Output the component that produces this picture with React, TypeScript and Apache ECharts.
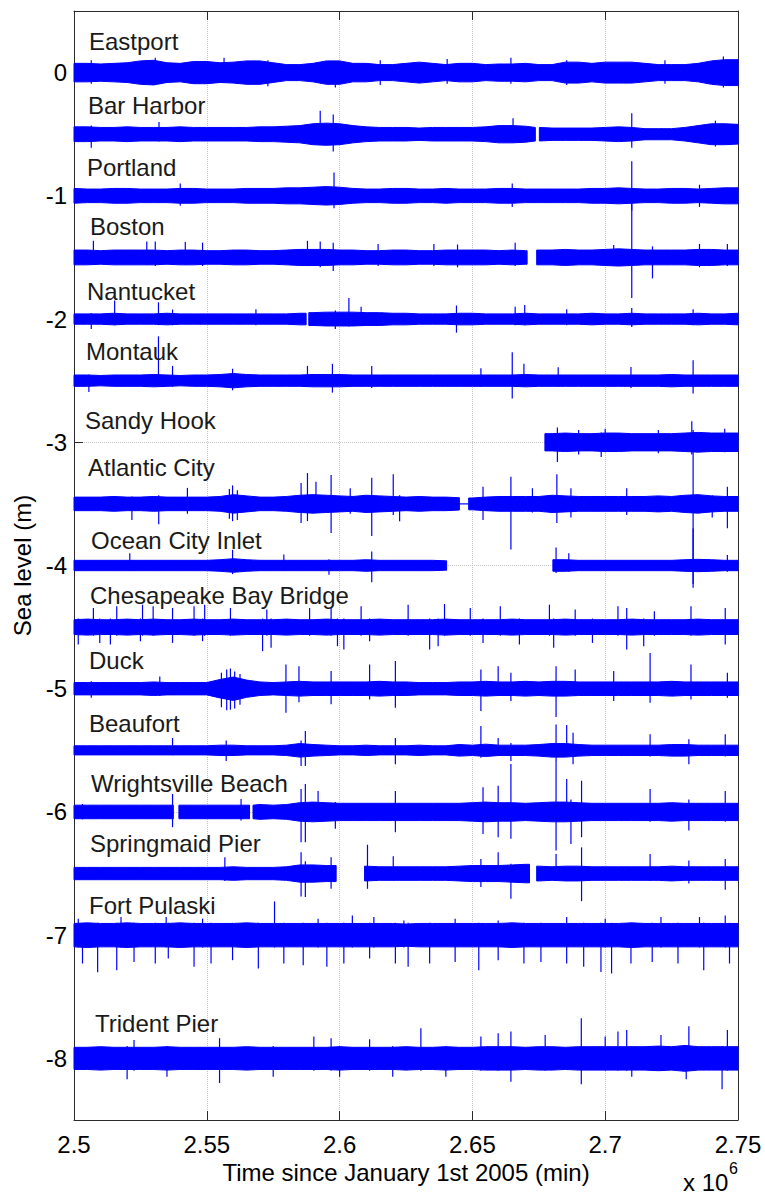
import React, { useEffect, useRef } from "react";
import * as echarts from "echarts";

// ---------- data ----------
const X_MIN = 2.5;
const X_MAX = 2.75;
const X_STEP = 0.005; // envelope samples every 5000 min (x in 10^6 min)

const stationNames = [
  "Eastport", "Bar Harbor", "Portland", "Boston", "Nantucket", "Montauk",
  "Sandy Hook", "Atlantic City", "Ocean City Inlet", "Chesapeake Bay Bridge",
  "Duck", "Beaufort", "Wrightsville Beach", "Springmaid Pier", "Fort Pulaski", "Trident Pier",
];
const baselines = [0, -0.5, -1, -1.5, -2, -2.5, -3, -3.5, -4, -4.5, -5, -5.5, -6, -6.5, -7, -8];

const yTickValues = [0, -1, -2, -3, -4, -5, -6, -7, -8];

// half-width of the oscillation envelope (m)
const ampEastport = [
  0.075, 0.075, 0.07, 0.075, 0.08, 0.095, 0.1, 0.08, 0.075, 0.09,
  0.09, 0.08, 0.085, 0.095, 0.095, 0.08, 0.065, 0.065, 0.075, 0.095,
  0.095, 0.075, 0.075, 0.065, 0.065, 0.075, 0.085, 0.075, 0.065, 0.075,
  0.075, 0.065, 0.07, 0.07, 0.075, 0.065, 0.065, 0.085, 0.085, 0.075,
  0.085, 0.085, 0.085, 0.075, 0.065, 0.065, 0.065, 0.075, 0.095, 0.105,
  0.105,
];
const ampBarHarbor = [
  0.06, 0.06, 0.055, 0.055, 0.06, 0.055, 0.055, 0.055, 0.06, 0.055,
  0.055, 0.055, 0.055, 0.055, 0.06, 0.06, 0.065, 0.07, 0.085, 0.09,
  0.085, 0.07, 0.06, 0.055, 0.055, 0.055, 0.05, 0.055, 0.055, 0.055,
  0.055, 0.06, 0.07, 0.07, 0.065, 0.055, 0.05, 0.05, 0.05, 0.05,
  0.055, 0.06, 0.055, 0.045, 0.045, 0.045, 0.055, 0.07, 0.085, 0.085,
  0.08,
];
const ampPortland = [
  0.06, 0.055, 0.055, 0.06, 0.06, 0.055, 0.055, 0.055, 0.06, 0.06,
  0.055, 0.055, 0.055, 0.06, 0.06, 0.06, 0.065, 0.065, 0.07, 0.075,
  0.07, 0.06, 0.055, 0.055, 0.06, 0.06, 0.055, 0.055, 0.06, 0.055,
  0.055, 0.055, 0.06, 0.06, 0.055, 0.055, 0.055, 0.055, 0.055, 0.06,
  0.06, 0.065, 0.06, 0.055, 0.055, 0.06, 0.06, 0.055, 0.06, 0.065,
  0.065,
];
const ampBoston = [
  0.06, 0.06, 0.055, 0.06, 0.06, 0.06, 0.06, 0.055, 0.06, 0.06,
  0.055, 0.055, 0.06, 0.06, 0.055, 0.055, 0.06, 0.065, 0.065, 0.065,
  0.06, 0.06, 0.055, 0.055, 0.06, 0.06, 0.055, 0.055, 0.06, 0.06,
  0.06, 0.06, 0.055, 0.06, 0.055, 0.06, 0.06, 0.065, 0.06, 0.06,
  0.065, 0.07, 0.065, 0.06, 0.06, 0.06, 0.06, 0.065, 0.065, 0.06,
  0.06,
];
const ampNantucket = [
  0.042, 0.042, 0.042, 0.047, 0.042, 0.042, 0.042, 0.047, 0.042, 0.042,
  0.042, 0.042, 0.042, 0.042, 0.042, 0.042, 0.042, 0.047, 0.052, 0.056,
  0.056, 0.056, 0.052, 0.052, 0.047, 0.047, 0.042, 0.042, 0.042, 0.047,
  0.047, 0.042, 0.042, 0.042, 0.047, 0.042, 0.042, 0.042, 0.042, 0.047,
  0.042, 0.042, 0.047, 0.042, 0.042, 0.042, 0.042, 0.047, 0.042, 0.042,
  0.047,
];
const ampMontauk = [
  0.046, 0.046, 0.042, 0.046, 0.046, 0.046, 0.05, 0.046, 0.042, 0.046,
  0.046, 0.05, 0.058, 0.05, 0.046, 0.046, 0.046, 0.046, 0.05, 0.05,
  0.05, 0.046, 0.046, 0.046, 0.046, 0.046, 0.046, 0.046, 0.046, 0.046,
  0.046, 0.046, 0.046, 0.046, 0.05, 0.046, 0.046, 0.046, 0.046, 0.046,
  0.046, 0.046, 0.046, 0.046, 0.046, 0.05, 0.046, 0.046, 0.046, 0.046,
  0.046,
];
const ampSandyHook = [
  null, null, null, null, null, null, null, null, null, null,
  null, null, null, null, null, null, null, null, null, null,
  null, null, null, null, null, null, null, null, null, null,
  null, null, null, null, null, null, 0.07, 0.075, 0.07, 0.07,
  0.075, 0.075, 0.07, 0.07, 0.07, 0.07, 0.075, 0.08, 0.075, 0.075,
  0.075,
];
const ampAtlanticCity = [
  0.055, 0.055, 0.055, 0.06, 0.055, 0.055, 0.06, 0.055, 0.055, 0.055,
  0.055, 0.06, 0.075, 0.065, 0.055, 0.055, 0.06, 0.07, 0.075, 0.07,
  0.065, 0.06, 0.07, 0.065, 0.06, 0.055, 0.06, 0.055, 0.055, 0.05,
  0.048, 0.055, 0.06, 0.06, 0.06, 0.06, 0.07, 0.065, 0.06, 0.06,
  0.06, 0.06, 0.06, 0.06, 0.065, 0.06, 0.07, 0.075, 0.065, 0.06,
  0.06,
];
const ampOceanCity = [
  0.042, 0.042, 0.042, 0.042, 0.042, 0.042, 0.042, 0.042, 0.042, 0.042,
  0.042, 0.047, 0.055, 0.047, 0.042, 0.042, 0.042, 0.042, 0.042, 0.042,
  0.042, 0.042, 0.047, 0.042, 0.042, 0.042, 0.042, 0.042, 0.038, null,
  null, null, null, null, null, null, null, 0.047, 0.042, 0.042,
  0.042, 0.042, 0.042, 0.042, 0.042, 0.042, 0.047, 0.05, 0.047, 0.042,
  0.042,
];
const ampChesapeake = [
  0.06, 0.065, 0.06, 0.06, 0.065, 0.06, 0.065, 0.06, 0.06, 0.065,
  0.06, 0.06, 0.065, 0.06, 0.06, 0.06, 0.065, 0.06, 0.06, 0.065,
  0.06, 0.06, 0.06, 0.065, 0.06, 0.06, 0.06, 0.06, 0.065, 0.06,
  0.06, 0.06, 0.06, 0.065, 0.06, 0.06, 0.06, 0.065, 0.06, 0.06,
  0.06, 0.06, 0.065, 0.06, 0.06, 0.06, 0.06, 0.065, 0.06, 0.06,
  0.06,
];
const ampDuck = [
  0.05, 0.05, 0.05, 0.05, 0.05, 0.05, 0.055, 0.05, 0.05, 0.05,
  0.05, 0.075, 0.095, 0.07, 0.055, 0.05, 0.055, 0.06, 0.055, 0.055,
  0.055, 0.055, 0.055, 0.06, 0.055, 0.055, 0.05, 0.05, 0.05, 0.055,
  0.055, 0.06, 0.055, 0.055, 0.06, 0.055, 0.06, 0.06, 0.055, 0.055,
  0.055, 0.055, 0.055, 0.055, 0.055, 0.06, 0.055, 0.055, 0.055, 0.055,
  0.055,
];
const ampBeaufort = [
  0.037, 0.037, 0.037, 0.037, 0.037, 0.037, 0.037, 0.037, 0.037, 0.037,
  0.037, 0.042, 0.042, 0.037, 0.037, 0.037, 0.042, 0.055, 0.047, 0.042,
  0.037, 0.037, 0.042, 0.037, 0.037, 0.037, 0.042, 0.037, 0.037, 0.047,
  0.042, 0.05, 0.042, 0.042, 0.042, 0.047, 0.055, 0.055, 0.047, 0.042,
  0.042, 0.042, 0.042, 0.042, 0.042, 0.047, 0.047, 0.042, 0.042, 0.042,
  0.042,
];
const ampWrightsville = [
  0.055, 0.055, 0.055, 0.055, 0.055, 0.055, 0.055, 0.055, 0.055, 0.055,
  0.055, 0.055, 0.055, 0.055, 0.06, 0.055, 0.06, 0.075, 0.08, 0.075,
  0.07, 0.07, 0.07, 0.07, 0.07, 0.07, 0.07, 0.07, 0.07, 0.07,
  0.075, 0.08, 0.075, 0.075, 0.07, 0.075, 0.08, 0.08, 0.075, 0.07,
  0.07, 0.07, 0.07, 0.07, 0.07, 0.075, 0.07, 0.07, 0.07, 0.07,
  0.07,
];
const ampSpringmaid = [
  0.05, 0.05, 0.05, 0.05, 0.05, 0.05, 0.05, 0.05, 0.05, 0.05,
  0.05, 0.05, 0.055, 0.05, 0.05, 0.05, 0.055, 0.07, 0.07, 0.065,
  null, null, 0.06, 0.055, 0.055, 0.055, 0.055, 0.055, 0.055, 0.06,
  0.065, 0.065, 0.065, 0.07, 0.075, 0.06, 0.055, 0.06, 0.06, 0.055,
  0.055, 0.055, 0.055, 0.055, 0.055, 0.06, 0.055, 0.055, 0.055, 0.055,
  0.055,
];
const ampFortPulaski = [
  0.095, 0.1, 0.095, 0.095, 0.1, 0.095, 0.095, 0.095, 0.1, 0.095,
  0.095, 0.095, 0.095, 0.1, 0.095, 0.095, 0.095, 0.095, 0.095, 0.095,
  0.095, 0.095, 0.095, 0.095, 0.095, 0.09, 0.095, 0.095, 0.095, 0.095,
  0.095, 0.095, 0.095, 0.1, 0.095, 0.095, 0.095, 0.095, 0.095, 0.095,
  0.095, 0.095, 0.1, 0.095, 0.095, 0.095, 0.095, 0.095, 0.095, 0.095,
  0.095,
];
const ampTrident = [
  0.09, 0.09, 0.095, 0.09, 0.09, 0.09, 0.09, 0.095, 0.09, 0.09,
  0.09, 0.09, 0.09, 0.095, 0.09, 0.09, 0.09, 0.09, 0.09, 0.09,
  0.095, 0.09, 0.09, 0.09, 0.09, 0.095, 0.09, 0.09, 0.095, 0.09,
  0.09, 0.095, 0.095, 0.095, 0.09, 0.095, 0.095, 0.09, 0.095, 0.095,
  0.095, 0.095, 0.095, 0.095, 0.1, 0.095, 0.105, 0.095, 0.095, 0.095,
  0.095,
];

// spikes: [time (10^6 min), excursion above baseline (m), excursion below baseline (m)]
const spikesEastport = [
  [2.5065, 0.1, 0.09], [2.5306, 0.12, 0.1], [2.5565, 0.12, 0.08], [2.573, 0.1, 0.11], [2.5984, 0.08, 0.12],
  [2.6153, 0.1, 0.1], [2.6405, 0.11, 0.09], [2.6645, 0.12, 0.09], [2.6855, 0.1, 0.1], [2.7225, 0.1, 0.09],
  [2.7445, 0.13, 0.12],
];
const spikesBarHarbor = [[2.5065, 0.07, 0.11], [2.532, 0.1, 0.06], [2.5927, 0.19, 0.08], [2.5976, 0.16, 0.14], [2.6653, 0.13, 0.07], [2.71, 0.17, 0.11], [2.7415, 0.11, 0.1]];
const spikesPortland = [[2.54, 0.1, 0.08], [2.5979, 0.19, 0.1], [2.665, 0.1, 0.09], [2.71, 0.28, 0.12], [2.7355, 0.09, 0.09]];
const spikesBoston = [
  [2.5073, 0.135, 0.06], [2.5274, 0.13, 0.06], [2.5306, 0.13, 0.07], [2.5419, 0.125, 0.06], [2.5484, 0.12, 0.07],
  [2.5879, 0.135, 0.07], [2.5927, 0.13, 0.08], [2.5976, 0.12, 0.11], [2.6145, 0.11, 0.07], [2.6355, 0.11, 0.07],
  [2.6444, 0.105, 0.08], [2.6661, 0.12, 0.07], [2.7032, 0.1, 0.07], [2.71, 0.5, 0.33], [2.7178, 0.09, 0.17],
  [2.7355, 0.11, 0.08], [2.746, 0.11, 0.07],
];
const spikesNantucket = [
  [2.5065, 0.05, 0.08], [2.5153, 0.15, 0.05], [2.5318, 0.136, 0.05], [2.5371, 0.077, 0.05], [2.5685, 0.08, 0.05],
  [2.5984, 0.07, 0.08], [2.6035, 0.17, 0.06], [2.6081, 0.1, 0.05], [2.644, 0.11, 0.11], [2.6661, 0.1, 0.05],
  [2.6697, 0.115, 0.05], [2.6855, 0.08, 0.05], [2.71, 0.09, 0.065], [2.7331, 0.08, 0.05],
];
const spikesMontauk = [
  [2.5056, 0.05, 0.092], [2.5318, 0.36, 0.04], [2.5371, 0.12, 0.05], [2.5597, 0.097, 0.078], [2.5879, 0.12, 0.05],
  [2.5973, 0.137, 0.097], [2.6121, 0.12, 0.06], [2.6532, 0.1, 0.05], [2.665, 0.23, 0.145], [2.6694, 0.137, 0.05],
  [2.6823, 0.108, 0.05], [2.7097, 0.11, 0.06], [2.7331, 0.165, 0.105],
];
const spikesSandyHook = [[2.682, 0.12, 0.16], [2.69, 0.1, 0.1], [2.6985, 0.08, 0.12], [2.7, 0.11, 0.08], [2.72, 0.1, 0.09], [2.7326, 0.17, 0.1], [2.745, 0.11, 0.08]];
const spikesAtlanticCity = [
  [2.5218, 0.06, 0.13], [2.5319, 0.07, 0.165], [2.5427, 0.13, 0.08], [2.5585, 0.12, 0.12], [2.5597, 0.15, 0.14],
  [2.5615, 0.11, 0.13], [2.5855, 0.17, 0.156],
  [2.5879, 0.25, 0.14], [2.5911, 0.18, 0.07], [2.5968, 0.234, 0.237], [2.604, 0.127, 0.08], [2.6121, 0.213, 0.26],
  [2.6202, 0.24, 0.09], [2.6226, 0.07, 0.14], [2.654, 0.14, 0.13], [2.6645, 0.22, 0.37], [2.6726, 0.127, 0.07],
  [2.6818, 0.24, 0.156], [2.6871, 0.127, 0.11], [2.7081, 0.127, 0.09], [2.7331, 0.6, 0.65], [2.7403, 0.07, 0.11],
  [2.746, 0.14, 0.197],
];
const spikesOceanCity = [
  [2.521, 0.1, 0.045], [2.5597, 0.127, 0.07], [2.579, 0.09, 0.045], [2.596, 0.05, 0.075], [2.6121, 0.113, 0.135],
  [2.6815, 0.146, 0.06], [2.6863, 0.1, 0.05], [2.7331, 0.3, 0.18], [2.746, 0.086, 0.05],
];
const spikesChesapeake = [
  [2.5016, 0.07, 0.141], [2.5073, 0.155, 0.07], [2.5097, 0.07, 0.128], [2.5137, 0.07, 0.141], [2.5161, 0.169, 0.07],
  [2.525, 0.07, 0.114], [2.5258, 0.182, 0.07], [2.5298, 0.169, 0.07], [2.5371, 0.155, 0.128], [2.5452, 0.169, 0.07],
  [2.5484, 0.07, 0.114], [2.5492, 0.182, 0.07], [2.5589, 0.155, 0.07], [2.571, 0.07, 0.195], [2.5726, 0.142, 0.07],
  [2.5742, 0.07, 0.168], [2.5887, 0.155, 0.07], [2.5968, 0.155, 0.07], [2.5992, 0.07, 0.155], [2.6016, 0.07, 0.182],
  [2.6081, 0.169, 0.07], [2.6113, 0.07, 0.114], [2.6258, 0.182, 0.07], [2.6339, 0.07, 0.182], [2.6371, 0.07, 0.155],
  [2.6395, 0.188, 0.07], [2.6492, 0.155, 0.07], [2.654, 0.07, 0.128], [2.6605, 0.169, 0.07], [2.6677, 0.07, 0.141],
  [2.679, 0.182, 0.07], [2.6806, 0.07, 0.168], [2.6887, 0.142, 0.07], [2.6952, 0.07, 0.128], [2.7048, 0.169, 0.07],
  [2.7081, 0.155, 0.182], [2.7145, 0.07, 0.155], [2.7185, 0.128, 0.07], [2.7323, 0.169, 0.07], [2.7452, 0.155, 0.141],
];
const spikesDuck = [
  [2.5065, 0.06, 0.073], [2.5323, 0.1, 0.06], [2.5555, 0.13, 0.15], [2.5575, 0.155, 0.175], [2.5589, 0.164, 0.17],
  [2.5605, 0.14, 0.16], [2.5625, 0.12, 0.13],
  [2.5798, 0.197, 0.194], [2.5847, 0.183, 0.11],
  [2.5968, 0.143, 0.127], [2.6113, 0.197, 0.087], [2.621, 0.224, 0.154], [2.6532, 0.156, 0.18], [2.6597, 0.183, 0.06],
  [2.6645, 0.13, 0.1], [2.6815, 0.183, 0.229], [2.6887, 0.156, 0.06], [2.7032, 0.143, 0.1], [2.7169, 0.29, 0.113],
  [2.7323, 0.197, 0.087], [2.746, 0.13, 0.073],
];
const spikesBeaufort = [
  [2.5371, 0.1, 0.04], [2.5573, 0.08, 0.086], [2.5855, 0.08, 0.127], [2.5871, 0.156, 0.127], [2.621, 0.1, 0.113],
  [2.6532, 0.197, 0.06], [2.6597, 0.1, 0.04], [2.6645, 0.06, 0.086], [2.6815, 0.21, 0.086], [2.6855, 0.205, 0.05],
  [2.6879, 0.143, 0.113], [2.7169, 0.13, 0.05], [2.7315, 0.09, 0.113], [2.7452, 0.13, 0.05],
];
const spikesWrightsville = [
  [2.5032, 0.065, 0.06], [2.5371, 0.146, 0.124], [2.5629, 0.105, 0.07], [2.5855, 0.186, 0.245], [2.5871, 0.226, 0.245],
  [2.5919, 0.17, 0.08], [2.5984, 0.08, 0.137], [2.621, 0.17, 0.164], [2.654, 0.2, 0.178], [2.6597, 0.213, 0.205],
  [2.6645, 0.39, 0.218], [2.6815, 0.415, 0.313], [2.6855, 0.267, 0.08], [2.6871, 0.1, 0.26], [2.6911, 0.253, 0.205],
  [2.7169, 0.186, 0.08], [2.7315, 0.1, 0.15], [2.7452, 0.17, 0.08],
];
const spikesSpringmaid = [
  [2.5568, 0.132, 0.06], [2.5855, 0.172, 0.186], [2.5871, 0.1, 0.19], [2.5968, 0.132, 0.124], [2.6105, 0.234, 0.124],
  [2.6202, 0.14, 0.06], [2.6532, 0.119, 0.11], [2.6597, 0.172, 0.06], [2.6645, 0.08, 0.205], [2.6815, 0.159, 0.06],
  [2.6911, 0.213, 0.224], [2.7169, 0.159, 0.06], [2.7315, 0.105, 0.08], [2.7452, 0.119, 0.132],
];
const spikesFortPulaski = [
  [2.5016, 0.134, 0.1], [2.5032, 0.1, 0.23], [2.5089, 0.1, 0.3], [2.5161, 0.1, 0.284], [2.5177, 0.147, 0.1],
  [2.5226, 0.1, 0.217], [2.5306, 0.1, 0.23], [2.5347, 0.147, 0.1], [2.5355, 0.1, 0.19], [2.5452, 0.1, 0.257],
  [2.5484, 0.134, 0.1], [2.5516, 0.1, 0.23], [2.5597, 0.1, 0.203], [2.5694, 0.1, 0.27], [2.5755, 0.274, 0.1],
  [2.579, 0.1, 0.23], [2.5863, 0.1, 0.244], [2.5919, 0.134, 0.1], [2.5952, 0.1, 0.257], [2.6016, 0.1, 0.23],
  [2.6048, 0.16, 0.1], [2.6113, 0.1, 0.19], [2.6129, 0.147, 0.1], [2.621, 0.1, 0.23], [2.6242, 0.12, 0.1],
  [2.6258, 0.1, 0.257], [2.6339, 0.1, 0.23], [2.6435, 0.134, 0.217], [2.6524, 0.1, 0.284], [2.6597, 0.12, 0.203],
  [2.6694, 0.1, 0.23], [2.6758, 0.1, 0.217], [2.6855, 0.147, 0.23], [2.6919, 0.1, 0.257], [2.6984, 0.1, 0.298],
  [2.7, 0.134, 0.1], [2.7024, 0.1, 0.311], [2.7097, 0.1, 0.23], [2.7177, 0.1, 0.217], [2.721, 0.147, 0.1],
  [2.7274, 0.1, 0.23], [2.7355, 0.147, 0.1], [2.7371, 0.1, 0.284], [2.7452, 0.16, 0.1], [2.7468, 0.1, 0.23],
];
const spikesTrident = [
  [2.52, 0.1, 0.17], [2.5226, 0.15, 0.1], [2.535, 0.1, 0.15], [2.5548, 0.164, 0.2], [2.575, 0.1, 0.15],
  [2.5903, 0.178, 0.1], [2.5968, 0.164, 0.1], [2.6, 0.1, 0.15], [2.6113, 0.156, 0.1], [2.62, 0.1, 0.15],
  [2.6306, 0.245, 0.1], [2.64, 0.1, 0.15], [2.6532, 0.178, 0.1], [2.6597, 0.205, 0.1], [2.6645, 0.218, 0.19],
  [2.6774, 0.19, 0.1], [2.691, 0.326, 0.21], [2.7, 0.178, 0.1], [2.7048, 0.218, 0.1], [2.7081, 0.23, 0.1],
  [2.71, 0.1, 0.15], [2.721, 0.19, 0.1], [2.7305, 0.1, 0.17], [2.7315, 0.26, 0.1], [2.744, 0.1, 0.25],
  [2.746, 0.23, 0.1],
];

// data gaps: [start, end] (10^6 min); bridged gaps are drawn as a flat line
const gapsBarHarbor = [[2.6737, 2.6752]];
const gapsBoston = [[2.6706, 2.6742]];
const gapsNantucket = [[2.5874, 2.5884]];
const gapsSandyHook = [[2.49, 2.6773]];
const gapsAtlanticCity = [[2.6451, 2.6486]];
const gapsOceanCity = [[2.6403, 2.6803]];
const gapsWrightsville = [[2.5374, 2.5395], [2.5661, 2.5674]];
const gapsSpringmaid = [[2.5987, 2.6094], [2.6715, 2.6742]];

const stations = [
  { amp: ampEastport, spikes: spikesEastport, gaps: [], bridged: false },
  { amp: ampBarHarbor, spikes: spikesBarHarbor, gaps: gapsBarHarbor, bridged: false },
  { amp: ampPortland, spikes: spikesPortland, gaps: [], bridged: false },
  { amp: ampBoston, spikes: spikesBoston, gaps: gapsBoston, bridged: false },
  { amp: ampNantucket, spikes: spikesNantucket, gaps: gapsNantucket, bridged: false },
  { amp: ampMontauk, spikes: spikesMontauk, gaps: [], bridged: false },
  { amp: ampSandyHook, spikes: spikesSandyHook, gaps: gapsSandyHook, bridged: false },
  { amp: ampAtlanticCity, spikes: spikesAtlanticCity, gaps: gapsAtlanticCity, bridged: true },
  { amp: ampOceanCity, spikes: spikesOceanCity, gaps: gapsOceanCity, bridged: false },
  { amp: ampChesapeake, spikes: spikesChesapeake, gaps: [], bridged: false },
  { amp: ampDuck, spikes: spikesDuck, gaps: [], bridged: false },
  { amp: ampBeaufort, spikes: spikesBeaufort, gaps: [], bridged: false },
  { amp: ampWrightsville, spikes: spikesWrightsville, gaps: gapsWrightsville, bridged: false },
  { amp: ampSpringmaid, spikes: spikesSpringmaid, gaps: gapsSpringmaid, bridged: false },
  { amp: ampFortPulaski, spikes: spikesFortPulaski, gaps: [], bridged: false },
  { amp: ampTrident, spikes: spikesTrident, gaps: [], bridged: false },
];

// label layout (pixel positions: left, vertical centre)
const labelLayout = [
  [89, 43], [88, 107], [87, 169], [90, 228], [87, 293], [86, 353], [85, 422], [88, 469],
  [91, 542], [90, 597], [89, 662], [89, 725], [91, 785], [90, 845], [89, 907], [95, 1025],
];

// ---------- helpers ----------
const BLUE = "#0000ff";
const FONT = "'Liberation Sans', Arial, Helvetica, sans-serif";

function segmentsOf(gaps: number[][]) {
  const segs: number[][] = [];
  let start = X_MIN;
  const sorted = gaps.slice().sort((a, b) => a[0] - b[0]);
  for (const [g0, g1] of sorted) {
    if (g0 > start) segs.push([start, Math.min(g0, X_MAX)]);
    start = Math.max(start, g1);
  }
  if (start < X_MAX) segs.push([start, X_MAX]);
  return segs;
}

function nearestAmp(amp: (number | null)[], x: number) {
  let best: number | null = null;
  let bd = Infinity;
  amp.forEach((v, i) => {
    if (v == null) return;
    const d = Math.abs(X_MIN + i * X_STEP - x);
    if (d < bd) { bd = d; best = v; }
  });
  return best;
}

export default function App() {
  const ref = useRef<HTMLDivElement>(null);

  useEffect(() => {
    if (!ref.current) return;
    const chart = echarts.init(ref.current, undefined, { renderer: "svg" });

    const renderItem = (params: any, api: any) => {
      const idx = api.value(2);
      const st = stations[idx];
      const base = baselines[idx];
      const children: any[] = [];
      for (const [a, b] of segmentsOf(st.gaps)) {
        const samples: number[][] = [];
        st.amp.forEach((v: number | null, i: number) => {
          const x = X_MIN + i * X_STEP;
          if (v != null && x > a + 1e-9 && x < b - 1e-9) samples.push([x, v]);
        });
        const aA = nearestAmp(st.amp, a);
        const bA = nearestAmp(st.amp, b);
        if (aA == null || bA == null) continue;
        const upper = [[a, aA], ...samples, [b, bA]];
        const pts = upper
          .map(([x, h]) => api.coord([x, base + h]))
          .concat(upper.slice().reverse().map(([x, h]) => api.coord([x, base - h])));
        children.push({
          type: "polygon",
          shape: { points: pts },
          style: { fill: BLUE, stroke: BLUE, lineWidth: 1 },
        });
      }
      if (st.bridged) {
        for (const [g0, g1] of st.gaps) {
          const p1 = api.coord([g0, base]);
          const p2 = api.coord([g1, base]);
          children.push({
            type: "line",
            shape: { x1: p1[0], y1: p1[1], x2: p2[0], y2: p2[1] },
            style: { stroke: BLUE, lineWidth: 1.2 },
          });
        }
      }
      for (const [x, up, down] of st.spikes) {
        const p1 = api.coord([x, base + up]);
        const p2 = api.coord([x, base - down]);
        children.push({
          type: "line",
          shape: { x1: p1[0], y1: p1[1], x2: p2[0], y2: p2[1] },
          style: { stroke: BLUE, lineWidth: 1.2 },
        });
      }
      return { type: "group", children };
    };

    const axisColor = "#2b2b2b";
    const gridLine = { show: true, lineStyle: { color: "#c4c4c4", type: "dotted", width: 1 } };

    const option: any = {
      animation: false,
      backgroundColor: "#ffffff",
      grid: { left: 74, right: 27, top: 11, bottom: 74 },
      xAxis: [
        {
          type: "value", min: X_MIN, max: X_MAX, interval: 0.05, position: "bottom",
          axisLine: { show: true, onZero: false, lineStyle: { color: axisColor, width: 1 } },
          axisTick: { show: true, inside: true, length: 9, lineStyle: { color: axisColor } },
          axisLabel: {
            color: "#000", fontSize: 24, fontFamily: FONT, margin: 12,
            formatter: (v: number) => String(+v.toFixed(2)),
          },
          splitLine: gridLine,
          name: "Time since January 1st 2005 (min)",
          nameLocation: "middle", nameGap: 40,
          nameTextStyle: { color: "#000", fontSize: 24, fontFamily: FONT },
        },
        {
          type: "value", min: X_MIN, max: X_MAX, interval: 0.05, position: "top",
          axisLine: { show: true, onZero: false, lineStyle: { color: axisColor, width: 1 } },
          axisTick: { show: true, inside: true, length: 9, lineStyle: { color: axisColor } },
          axisLabel: { show: false }, splitLine: { show: false },
        },
      ],
      yAxis: [
        {
          type: "value", min: -8.5, max: 0.5, splitNumber: 9, position: "left",
          axisLine: { show: true, onZero: false, lineStyle: { color: axisColor, width: 1 } },
          axisTick: { show: true, inside: true, length: 9, lineStyle: { color: axisColor } },
          axisLabel: {
            color: "#000", fontSize: 24, fontFamily: FONT, margin: 7,
            formatter: (v: number) => (yTickValues.includes(Math.round(v * 1000) / 1000) ? String(Math.round(v)) : ""),
          },
          splitLine: gridLine,
          name: "Sea level (m)", nameLocation: "middle", nameGap: 40, nameRotate: 90,
          nameTextStyle: { color: "#000", fontSize: 24, fontFamily: FONT },
        },
        {
          type: "value", min: -8.5, max: 0.5, splitNumber: 9, position: "right",
          axisLine: { show: true, onZero: false, lineStyle: { color: axisColor, width: 1 } },
          axisTick: { show: true, inside: true, length: 9, lineStyle: { color: axisColor } },
          axisLabel: { show: false }, splitLine: { show: false },
        },
      ],
      graphic: [
        ...stationNames.map((name, i) => ({
          type: "text", left: labelLayout[i][0], top: labelLayout[i][1] - 14, z: 10,
          style: { text: name, fill: "#1a1a1a", font: `24px ${FONT}` },
        })),
        {
          type: "text", left: 683, top: 1170, z: 10,
          style: { text: "x 10", fill: "#000", font: `24px ${FONT}` },
        },
        {
          type: "text", left: 729, top: 1160, z: 10,
          style: { text: "6", fill: "#000", font: `16px ${FONT}` },
        },
      ],
      series: [
        {
          type: "custom",
          coordinateSystem: "cartesian2d",
          xAxisIndex: 0, yAxisIndex: 0,
          renderItem,
          encode: { x: 0, y: 1 },
          data: stationNames.map((_, i) => [X_MIN, baselines[i], i]),
          silent: true,
        },
      ],
    };

    chart.setOption(option);
    return () => chart.dispose();
  }, []);

  return (
    <div
      ref={ref}
      style={{ position: "absolute", left: 0, top: 0, width: 765, height: 1194, background: "#fff" }}
    />
  );
}
